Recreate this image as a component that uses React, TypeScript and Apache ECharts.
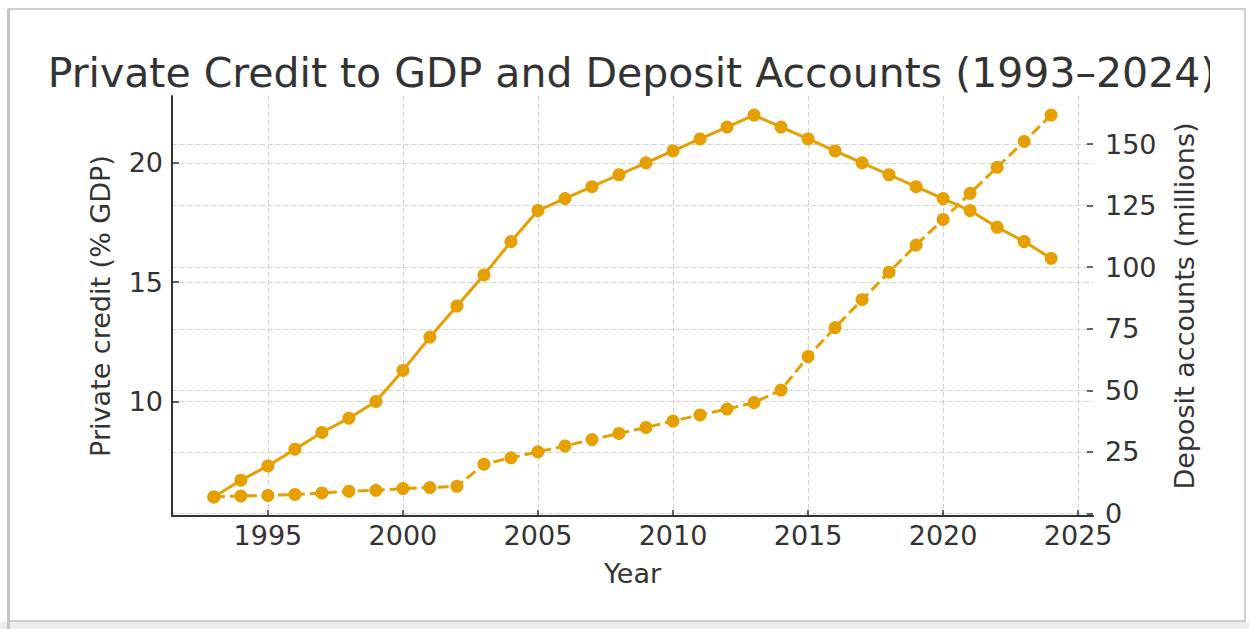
import React, { useEffect, useRef } from "react";
import * as echarts from "echarts";

const years = [1993, 1994, 1995, 1996, 1997, 1998, 1999, 2000, 2001, 2002, 2003, 2004, 2005, 2006, 2007, 2008, 2009, 2010, 2011, 2012, 2013, 2014, 2015, 2016, 2017, 2018, 2019, 2020, 2021, 2022, 2023, 2024];
const privateCredit = [6.0, 6.7, 7.3, 8.0, 8.7, 9.3, 10.0, 11.3, 12.7, 14.0, 15.3, 16.7, 18.0, 18.5, 19.0, 19.5, 20.0, 20.5, 21.0, 21.5, 22.0, 21.5, 21.0, 20.5, 20.0, 19.5, 19.0, 18.5, 18.0, 17.3, 16.7, 16.0];
const depositAccounts = [6.7, 7.1, 7.3, 7.7, 8.3, 9.0, 9.4, 10.1, 10.5, 11.0, 20.0, 22.6, 25.0, 27.4, 30.0, 32.5, 34.9, 37.5, 40.0, 42.4, 45.0, 50.1, 63.7, 75.5, 86.8, 98.0, 109.0, 119.4, 130.0, 140.6, 151.1, 161.8];
const xTicks = [1995, 2000, 2005, 2010, 2015, 2020, 2025];
const leftTicks = [10, 15, 20];
const rightTicks = [0, 25, 50, 75, 100, 125, 150];

const TITLE = "Private Credit to GDP and Deposit Accounts (1993–2024)";
const COLOR = "#E69F00";
const FONT = "DejaVu Sans";
const TXT = "#333333";

function padded(vals: number[]): [number, number] {
  const lo = Math.min(...vals);
  const hi = Math.max(...vals);
  const m = (hi - lo) * 0.05;
  return [lo - m, hi + m];
}

export default function App() {
  const ref = useRef<HTMLDivElement>(null);
  useEffect(() => {
    document.body.style.margin = "0";
    const chart = echarts.init(ref.current!, null, { renderer: "svg" });
    const xr = padded(years);
    const lr = padded(privateCredit);
    const rr = padded(depositAccounts);
    const gridLine = { show: true, lineStyle: { color: "#d0d0d0", width: 1, type: [5, 3] as any } };
    const option: any = {
      animation: false,
      backgroundColor: "#ffffff",
      title: {
        text: TITLE,
        left: 627,
        top: 47,
        textAlign: "center",
        textStyle: { fontFamily: FONT, fontSize: 41, fontWeight: "normal", color: TXT },
      },
      grid: { left: 172, top: 96, width: 921, height: 420, containLabel: false },
      xAxis: {
        type: "value",
        min: xr[0],
        max: xr[1],
        name: "Year",
        nameLocation: "middle",
        nameGap: 44,
        nameTextStyle: { fontFamily: FONT, fontSize: 27, color: TXT, verticalAlign: "top" },
        axisLine: { show: true, onZero: false, lineStyle: { color: "#333", width: 2 } },
        axisTick: { show: true, inside: true, length: 6, customValues: xTicks, lineStyle: { color: "#333", width: 1.5 } },
        axisLabel: {
          customValues: xTicks,
          formatter: (v: number) => String(v),
          margin: 9,
          lineHeight: 20,
          fontFamily: FONT,
          fontSize: 27,
          color: TXT,
        },
        splitLine: gridLine,
      },
      yAxis: [
        {
          type: "value",
          min: lr[0],
          max: lr[1],
          position: "left",
          name: "Private credit (% GDP)",
          nameLocation: "middle",
          nameGap: 58,
          nameTextStyle: { fontFamily: FONT, fontSize: 27, color: TXT },
          axisLine: { show: true, lineStyle: { color: "#333", width: 2 } },
          axisTick: { show: true, inside: true, length: 7, customValues: leftTicks, lineStyle: { color: "#333", width: 1.5 } },
          axisLabel: { customValues: leftTicks, margin: 9, fontFamily: FONT, fontSize: 27, color: TXT, formatter: (v: number) => String(v) },
          splitLine: gridLine,
        },
        {
          type: "value",
          min: rr[0],
          max: rr[1],
          position: "right",
          name: "Deposit accounts (millions)",
          nameLocation: "middle",
          nameGap: 78,
          nameTextStyle: { fontFamily: FONT, fontSize: 27, color: TXT },
          axisLine: { show: false },
          axisTick: { show: true, inside: true, length: 6, customValues: rightTicks, lineStyle: { color: "#333", width: 1.5 } },
          axisLabel: { customValues: rightTicks, margin: 12, lineHeight: 20, fontFamily: FONT, fontSize: 27, color: TXT, formatter: (v: number) => String(v) },
          splitLine: gridLine,
        },
      ],
      series: [
        {
          name: "Private credit (% GDP)",
          type: "line",
          yAxisIndex: 0,
          data: years.map((y, i) => [y, privateCredit[i]]),
          symbol: "circle",
          symbolSize: 13,
          lineStyle: { color: COLOR, width: 3 },
          itemStyle: { color: COLOR },
          z: 3,
        },
        {
          name: "Deposit accounts (millions)",
          type: "line",
          yAxisIndex: 1,
          data: years.map((y, i) => [y, depositAccounts[i]]),
          symbol: "circle",
          symbolSize: 13,
          lineStyle: { color: COLOR, width: 3, type: [11, 5] },
          itemStyle: { color: COLOR },
          z: 4,
        },
      ],
      graphic: [
        { type: "rect", z: 100, shape: { x: 1210, y: 45, width: 30, height: 50 }, style: { fill: "#ffffff" } },
        { type: "rect", z: 101, shape: { x: 9, y: 9, width: 1236, height: 612 }, style: { fill: "none", stroke: "#cdcdcd", lineWidth: 2 } },
        { type: "rect", z: 101, shape: { x: 0, y: 622, width: 1249, height: 7 }, style: { fill: "#ececec" } },
        { type: "rect", z: 101, shape: { x: 7, y: 9, width: 3, height: 620 }, style: { fill: "#c4c4c4" } },
      ],
    };
    chart.setOption(option);
    return () => chart.dispose();
  }, []);
  return <div ref={ref} style={{ width: 1249, height: 629 }} />;
}
